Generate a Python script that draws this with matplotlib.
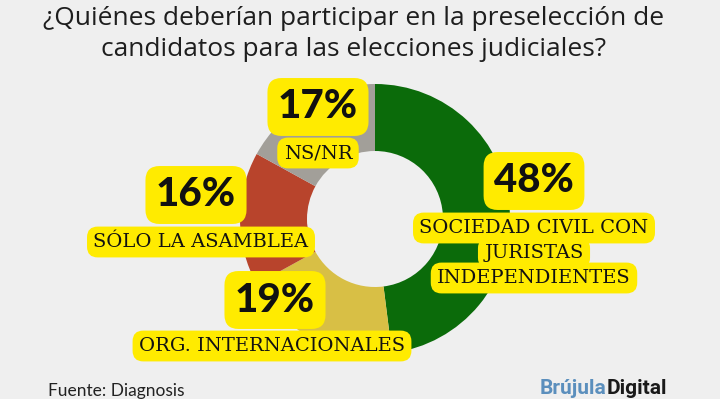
"""Donut chart: preselección de candidatos para las elecciones judiciales."""

import matplotlib.pyplot as plt

W, H = 720, 399

categories = ["SOCIEDAD CIVIL CON\nJURISTAS\nINDEPENDIENTES", "ORG. INTERNACIONALES",
              "SÓLO LA ASAMBLEA", "NS/NR"]
shares = [48, 19, 16, 17]
colors = ["#0b6b0a", "#d8bf45", "#b8442c", "#a29f99"]

title = "¿Quiénes deberían participar en la preselección de\ncandidatos para las elecciones judiciales?"
source = "Fuente: Diagnosis"

# label anchor points in pixel coords (x, y from top): percent box, first category line
label_pos = [((534, 181), (534, 228)),
             ((275, 300), (272, 346)),
             ((196, 195), (201, 242)),
             ((318, 107), (318, 153))]

BG = "#efefef"
BOX = "#ffeb00"


def py(y):
    return H - y


fig = plt.figure(figsize=(W / 100, H / 100), dpi=100, facecolor=BG)
ax = fig.add_axes([0, 0, 1, 1])
ax.set_facecolor(BG)

ax.pie(shares, colors=colors, startangle=90, counterclock=False,
       center=(375, py(219)), radius=135,
       wedgeprops=dict(width=67, linewidth=0))
ax.set_xlim(0, W)
ax.set_ylim(0, H)
ax.set_aspect("equal")
ax.axis("off")

pct_box = dict(boxstyle="round,pad=0.26,rounding_size=0.35", fc=BOX, ec="none")
cat_box = dict(boxstyle="round,pad=0.33,rounding_size=0.55", fc=BOX, ec="none")

for share, cat, (ppos, cpos) in zip(shares, categories, label_pos):
    ax.text(ppos[0], py(ppos[1]), f"{share}%", ha="center", va="center",
            fontsize=29, fontweight="black", family="Lato", color="#111111",
            bbox=pct_box, zorder=5)
    for i, line in enumerate(cat.split("\n")):
        ax.text(cpos[0], py(cpos[1] + i * 25), line, ha="center", va="center",
                fontsize=14, family="DejaVu Serif", color="#111111",
                bbox=cat_box, zorder=4)

fig.text(354 / W, 1 - 34 / H, title, ha="center", va="center", fontsize=19,
         family="Open Sans", color="#1e1e1e", linespacing=1.3)

fig.text(48 / W, 1 - 391 / H, source, ha="left", va="center", fontsize=12.5,
         family="Lato", color="#222222")
fig.text(606 / W, 1 - 389 / H, "Brújula", ha="right", va="center", fontsize=15,
         fontweight="bold", family="Roboto", color="#5b8fbd")
fig.text(607 / W, 1 - 389 / H, "Digital", ha="left", va="center", fontsize=15,
         fontweight="bold", family="Roboto", color="#1a1a1a")

fig.savefig("out.png", dpi=100, facecolor=BG)
